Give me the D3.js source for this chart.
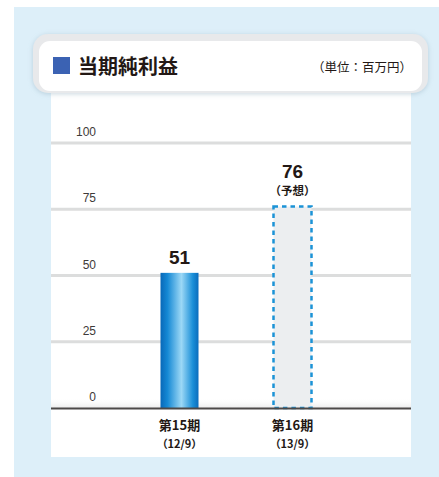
<!DOCTYPE html>
<html>
<head>
<meta charset="utf-8">
<script src="https://cdn.jsdelivr.net/npm/d3@7"></script>
<style>
  body { margin: 0; background: #fff; }
  svg { display: block; }
</style>
</head>
<body>
<svg id="chart" width="439" height="477"></svg>
<script>
// data
var categories = ["第15期", "第16期"];
var periods = ["（12/9）", "（13/9）"];
var values = [51, 76];
var forecast = [false, true];
var ticks = [0, 25, 50, 75, 100];

var W = 439, H = 477;
var jp = "'Noto Sans CJK JP', sans-serif";
var num = "'Liberation Sans', Arial, sans-serif";

var svg = d3.select("#chart");
var defs = svg.append("defs");

//bar gradient
var grad = defs.append("linearGradient").attr("id", "barGrad")
    .attr("x1", "0%").attr("x2", "100%").attr("y1", "0%").attr("y2", "0%");
[[0, "#0868b8"], [0.18, "#1488d4"], [0.55, "#9cd8f6"], [0.85, "#1a8fd8"], [1, "#0a6cbc"]]
    .forEach(function(s){ grad.append("stop").attr("offset", s[0]).attr("stop-color", s[1]); });

var fade = defs.append("linearGradient").attr("id", "fade")
    .attr("x1", "0").attr("x2", "0").attr("y1", "0").attr("y2", "1");
fade.append("stop").attr("offset", 0).attr("stop-color", "#fff").attr("stop-opacity", 0);
fade.append("stop").attr("offset", 1).attr("stop-color", "#d8d8d8").attr("stop-opacity", 1);

var shadow = defs.append("filter").attr("id", "shadow")
    .attr("x", "-10%").attr("y", "-30%").attr("width", "120%").attr("height", "160%");
shadow.append("feDropShadow").attr("dx", 0).attr("dy", 1).attr("stdDeviation", 2.5)
    .attr("flood-color", "#8aa6b8").attr("flood-opacity", 0.45);

//background
svg.append("rect").attr("x", 14).attr("y", 7).attr("width", W - 14).attr("height", H - 7)
    .attr("fill", "#ddeff9");
svg.append("rect").attr("x", 51).attr("y", 90).attr("width", 360).attr("height", 367)
    .attr("fill", "#fff");

//header
svg.append("rect").attr("x", 33).attr("y", 34).attr("width", 395).attr("height", 59)
    .attr("rx", 15).attr("fill", "#e8e9eb").attr("filter", "url(#shadow)");
svg.append("rect").attr("x", 39).attr("y", 41).attr("width", 383).attr("height", 50)
    .attr("rx", 11).attr("fill", "#fff");
svg.append("rect").attr("x", 53).attr("y", 57).attr("width", 17).attr("height", 17)
    .attr("fill", "#3b62b3");
svg.append("text").attr("x", 78).attr("y", 74)
    .style("font-family", jp).style("font-weight", "bold").style("font-size", "20px")
    .attr("fill", "#231815").text("当期純利益");
svg.append("text").attr("x", 412).attr("y", 72).attr("text-anchor", "end")
    .style("font-family", jp).style("font-size", "12.5px")
    .attr("fill", "#231815").text("（単位：百万円）");

//scales
var y = d3.scaleLinear().domain([0, 100]).range([408, 143]);
var x = d3.scalePoint().domain(categories).range([179.5, 292.5]);
var barW = 38;

//gridlines
svg.append("g").selectAll("line").data(ticks.slice(1)).enter().append("line")
    .attr("x1", 51).attr("x2", 411)
    .attr("y1", function(d){ return y(d); }).attr("y2", function(d){ return y(d); })
    .attr("stroke", "#dcdddd").attr("stroke-width", 3);

//soft shade above base
svg.append("rect").attr("x", 51).attr("y", y(0) - 10).attr("width", 360).attr("height", 10)
    .attr("fill", "url(#fade)").attr("opacity", 0.5);

//tick labels
svg.append("g").selectAll("text").data(ticks).enter().append("text")
    .attr("x", 96).attr("y", function(d){ return y(d) - 7; })
    .attr("text-anchor", "end")
    .style("font-family", num).style("font-size", "12px")
    .attr("fill", "#3e3a39").text(function(d){ return d; });

//bars
svg.append("g").selectAll("rect").data(values).enter().append("rect")
    .attr("x", function(d, i){ return x(categories[i]) - barW / 2; })
    .attr("y", function(d){ return y(d); })
    .attr("width", barW)
    .attr("height", function(d){ return y(0) - y(d); })
    .attr("fill", function(d, i){ return forecast[i] ? "#eceef0" : "url(#barGrad)"; })
    .attr("stroke", function(d, i){ return forecast[i] ? "#1b93d6" : "none"; })
    .attr("stroke-width", 2.5)
    .attr("stroke-dasharray", "4.5,4");

//base axis
svg.append("line").attr("x1", 51).attr("x2", 411).attr("y1", y(0) + 0.5).attr("y2", y(0) + 0.5)
    .attr("stroke", "#4c4948").attr("stroke-width", 1.8);

//value labels
svg.append("g").selectAll("text").data(values).enter().append("text")
    .attr("x", function(d, i){ return x(categories[i]); })
    .attr("y", function(d, i){ return y(d) - (forecast[i] ? 29 : 9); })
    .attr("text-anchor", "middle")
    .style("font-family", num).style("font-weight", "bold").style("font-size", "19px")
    .attr("fill", "#231815").text(function(d){ return d; });
svg.append("g").selectAll("text").data(values.filter(function(d, i){ return forecast[i]; }))
    .enter().append("text")
    .attr("x", x(categories[1]))
    .attr("y", function(d){ return y(d) - 12; })
    .attr("text-anchor", "middle")
    .style("font-family", jp).style("font-weight", "bold").style("font-size", "11.5px")
    .attr("fill", "#231815").text("（予想）");

//category labels
var xl = svg.append("g").selectAll("g").data(categories).enter().append("g");
xl.append("text")
    .attr("x", function(d){ return x(d); }).attr("y", 430)
    .attr("text-anchor", "middle")
    .style("font-family", jp).style("font-weight", "bold").style("font-size", "13px")
    .attr("fill", "#231815").text(function(d){ return d; });
xl.append("text")
    .attr("x", function(d){ return x(d); }).attr("y", 447.5)
    .attr("text-anchor", "middle")
    .style("font-family", jp).style("font-weight", "bold").style("font-size", "11px")
    .attr("fill", "#231815").text(function(d, i){ return periods[i]; });
</script>
</body>
</html>
